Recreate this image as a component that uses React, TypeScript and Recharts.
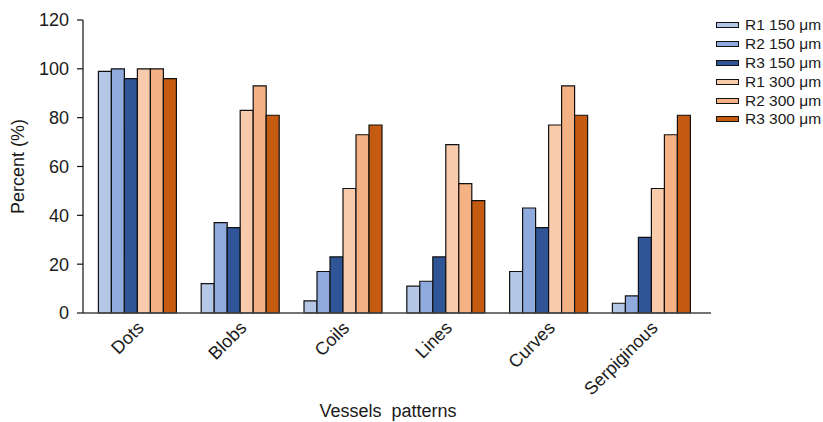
import React from "react";
import { BarChart, Bar, XAxis, YAxis } from "recharts";

const categories = ["Dots", "Blobs", "Coils", "Lines", "Curves", "Serpiginous"];
const r1_150 = [99, 12, 5, 11, 17, 4];
const r2_150 = [100, 37, 17, 13, 43, 7];
const r3_150 = [96, 35, 23, 23, 35, 31];
const r1_300 = [100, 83, 51, 69, 77, 51];
const r2_300 = [100, 93, 73, 53, 93, 73];
const r3_300 = [96, 81, 77, 46, 81, 81];
const yTicks = [0, 20, 40, 60, 80, 100, 120];

const seriesNames = ["R1 150 μm", "R2 150 μm", "R3 150 μm", "R1 300 μm", "R2 300 μm", "R3 300 μm"];
const seriesKeys = ["r1_150", "r2_150", "r3_150", "r1_300", "r2_300", "r3_300"];
const seriesColors = ["#b4c7e7", "#8faadc", "#2f5597", "#f8cbad", "#f4b183", "#c55a11"];
const seriesValues = [r1_150, r2_150, r3_150, r1_300, r2_300, r3_300];

const data = categories.map((c, i) => {
  const row: Record<string, any> = { name: c };
  seriesKeys.forEach((k, j) => {
    row[k] = seriesValues[j][i];
  });
  return row;
});

const FONT = "'Liberation Sans', Arial, Helvetica, sans-serif";
const TEXT = "#1a1a1a";

const XTick = (props: any) => {
  const { x, y, payload } = props;
  return (
    <text
      x={x + 7}
      y={y + 16}
      textAnchor="end"
      transform={`rotate(-45, ${x + 7}, ${y + 16})`}
      fontSize={18}
      fontFamily={FONT}
      fill={TEXT}
    >
      {payload.value}
    </text>
  );
};

const LegendBox = () => (
  <div
    style={{
      position: "absolute",
      left: 716,
      top: 16,
      fontFamily: FONT,
      fontSize: 15.5,
      color: TEXT,
    }}
  >
    {seriesNames.map((n, i) => (
      <div key={n} style={{ display: "flex", alignItems: "center", height: 18.8, whiteSpace: "nowrap" }}>
        <div
          style={{
            width: 21,
            height: 4,
            background: seriesColors[i],
            border: "1px solid #111",
            marginRight: 6,
          }}
        />
        <span>{n}</span>
      </div>
    ))}
  </div>
);

export default function App() {
  return (
    <div style={{ position: "absolute", left: 0, top: 0, width: 823, height: 422, background: "#fff" }}>
      <BarChart
        width={823}
        height={422}
        data={data}
        margin={{ top: 20, right: 112, bottom: 0, left: 0 }}
        barCategoryGap={12}
        barGap={0}
      >
        <XAxis
          dataKey="name"
          height={109}
          tickSize={0}
          tickMargin={0}
          tickLine={false}
          tick={<XTick />}
          interval={0}
          padding={{ left: 3.4, right: 7.8 }}
          axisLine={{ stroke: "#444", strokeWidth: 1.6 }}
          label={{
            content: (p: any) => {
              const vb = p.viewBox;
              return (
                <text
                  x={vb.x + vb.width / 2 - 9}
                  y={417}
                  textAnchor="middle"
                  fontSize={18}
                  fontFamily={FONT}
                  fill={TEXT}
                >
                  {"Vessels\u00A0 patterns"}
                </text>
              );
            },
          }}
        />
        <YAxis
          width={83}
          domain={[0, 120]}
          ticks={yTicks}
          interval={0}
          tickSize={6}
          tickMargin={8}
          axisLine={{ stroke: "#111", strokeWidth: 1.2 }}
          tickLine={{ stroke: "#111", strokeWidth: 1.2 }}
          tick={{ fontSize: 18, fontFamily: FONT, fill: TEXT }}
          label={{
            content: (p: any) => {
              const vb = p.viewBox;
              const cx = 24;
              const cy = vb.y + vb.height / 2;
              return (
                <text
                  x={cx}
                  y={cy}
                  textAnchor="middle"
                  transform={`rotate(-90, ${cx}, ${cy})`}
                  fontSize={18}
                  fontFamily={FONT}
                  fill={TEXT}
                >
                  Percent (%)
                </text>
              );
            },
          }}
        />
        {seriesKeys.map((k, i) => (
          <Bar
            key={k}
            dataKey={k}
            name={seriesNames[i]}
            fill={seriesColors[i]}
            stroke="#111"
            strokeWidth={1.2}
            isAnimationActive={false}
          />
        ))}
      </BarChart>
      <LegendBox />
    </div>
  );
}
